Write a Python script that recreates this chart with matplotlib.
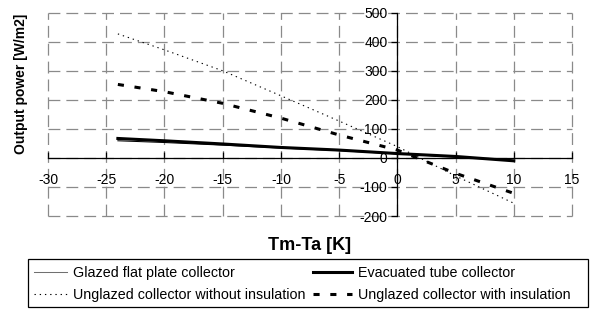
import matplotlib
matplotlib.use("Agg")
import matplotlib.pyplot as plt
from matplotlib.patches import Rectangle

plt.rcParams['font.family'] = ['Liberation Sans', 'DejaVu Sans']
plt.rcParams['axes.unicode_minus'] = False

x = [-24, -20, -15, -10, -5, 0, 5, 10]
glazed = [59, 53, 44, 34, 25, 14, 3, -9]
evacuated = [67, 59, 48, 36, 27, 15, 5, -10]
unglazed_no_ins = [427, 372, 300, 214, 127, 39, -62, -156]
unglazed_ins = [253, 228, 188, 137, 79, 27, -53, -122]

labels = ["Glazed flat plate collector", "Evacuated tube collector",
          "Unglazed collector without insulation", "Unglazed collector with insulation"]
xticks = [-30, -25, -20, -15, -10, -5, 0, 5, 10, 15]
yticks = [-200, -100, 0, 100, 200, 300, 400, 500]

W, H = 590, 309
fig = plt.figure(figsize=(W/100, H/100), dpi=100)
ax = fig.add_axes([48/W, 1-216/H, (572-48)/W, (216-12.7)/H])

l1, = ax.plot(x, glazed, color='black', lw=0.75)
l2, = ax.plot(x, evacuated, color='black', lw=2.2)
l3, = ax.plot(x, unglazed_no_ins, color='black', lw=0.8, dashes=(1.2, 3.5))
l4, = ax.plot(x, unglazed_ins, color='black', lw=2.2, dashes=(2, 3.5))

ax.set_xlim(-30, 15)
ax.set_ylim(-200, 500)
ax.set_xticks(xticks)
ax.set_yticks(yticks)
ax.set_xticklabels([str(v) for v in xticks])
ax.set_yticklabels([str(v) for v in yticks])

for s in ['top', 'right']:
    ax.spines[s].set_visible(False)
ax.spines['left'].set_position(('data', 0))
ax.spines['bottom'].set_position(('data', 0))
ax.spines['left'].set_linewidth(0.9)
ax.spines['bottom'].set_linewidth(0.9)

ax.tick_params(axis='x', direction='in', length=4, pad=11, labelsize=10, width=0.9)
ax.tick_params(axis='y', direction='out', length=4, pad=3, labelsize=10, width=0.9)

ax.grid(True, color='#8a8a8a', linestyle=(0, (9.5, 4.8)), linewidth=0.9)
for gl in ax.get_xgridlines() + ax.get_ygridlines():
    gl.set_clip_on(False)
ax.set_axisbelow(True)

fig.text(310/W, 1-246/H, "Tm-Ta [K]", ha='center', va='center',
         fontsize=13, fontweight='bold')
fig.text(21/W, 1-84/H, "Output power [W/m2]", ha='center', va='center',
         rotation=90, fontsize=10, fontweight='bold')

leg_font = dict(family=['Liberation Sans', 'DejaVu Sans'], size=10.3)
common = dict(loc='center left', frameon=False, prop=leg_font,
              handletextpad=0.42, borderpad=0, borderaxespad=0,
              labelspacing=0.53)
legA = fig.legend([l1, l3], [labels[0], labels[2]],
                  bbox_to_anchor=(34/W, 1-284/H), handlelength=2.3, **common)
legB = fig.legend([l2, l4], [labels[1], labels[3]],
                  bbox_to_anchor=(313/W, 1-284/H), handlelength=2.7, **common)
legA.legend_handles[0].set_color('#707070')

fig.patches.append(Rectangle((28/W, 1-307/H), (588-28)/W, (307-259)/H,
                             transform=fig.transFigure, fill=False,
                             edgecolor='black', lw=0.9))

fig.savefig("out.png", dpi=100)
